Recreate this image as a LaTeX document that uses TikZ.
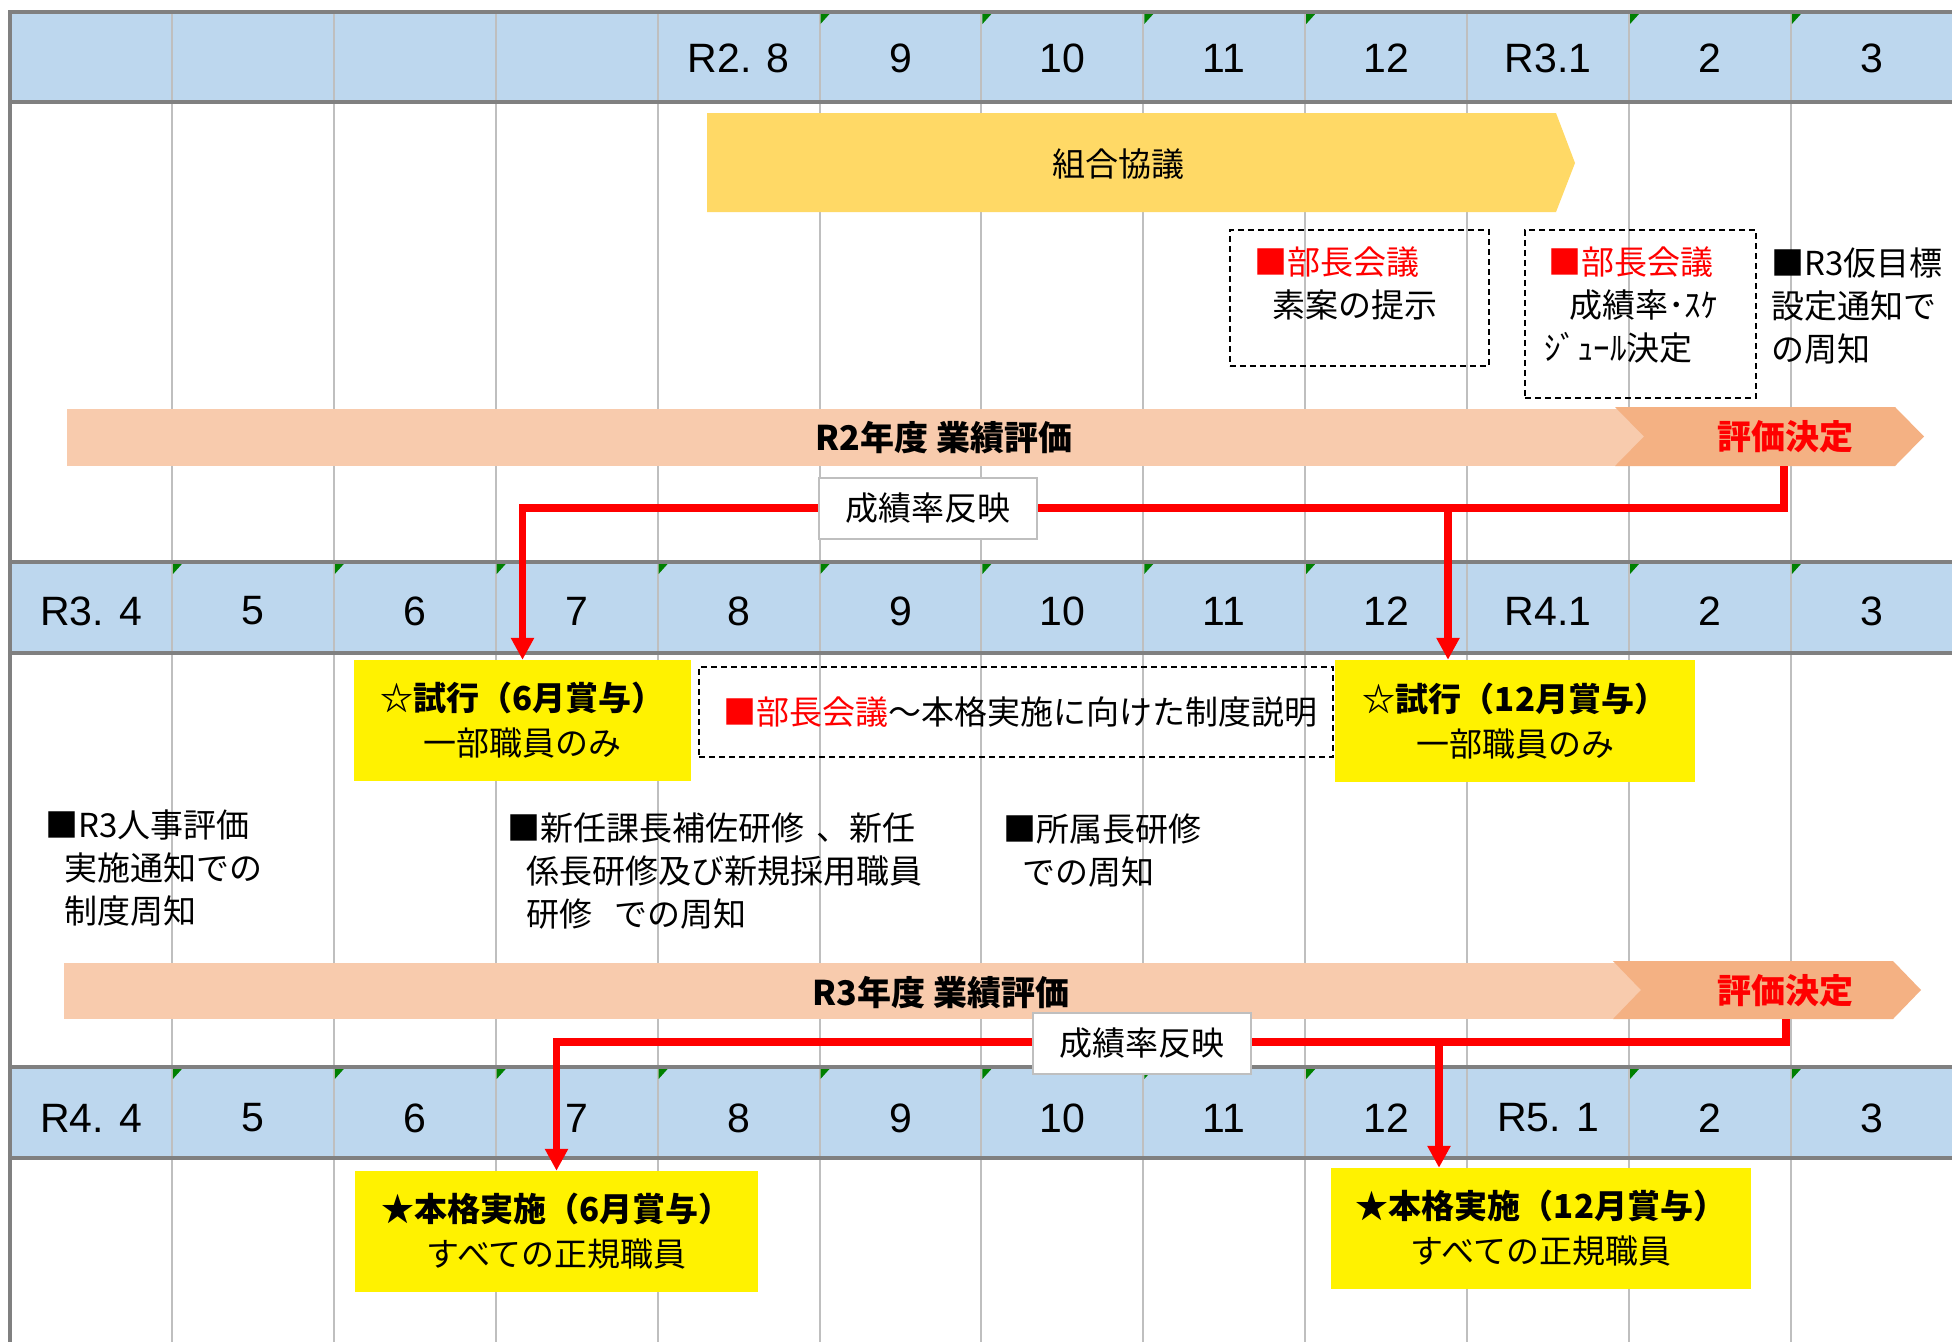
\documentclass[tikz,border=0pt]{standalone}
\usepackage{fontspec}
\setmainfont{Noto Sans CJK JP}
\newfontfamily\hdfont{Liberation Sans}
\usetikzlibrary{arrows.meta}
\definecolor{hdrblue}{HTML}{BDD7EE}
\definecolor{gridgray}{HTML}{BFBFBF}
\definecolor{bordergray}{HTML}{808080}
\definecolor{kumiaiyellow}{HTML}{FFD966}
\definecolor{evallight}{HTML}{F8CBAD}
\definecolor{evaldark}{HTML}{F4B183}
\definecolor{tickgreen}{HTML}{008000}
\begin{document}
\begin{tikzpicture}[x=1pt,y=-1pt,
  jp/.style={font=\fontsize{33}{43}\selectfont, inner sep=0pt},
  jpb/.style={font=\bfseries\fontsize{34}{43}\selectfont, inner sep=0pt},
  hdr/.style={font=\hdfont\fontsize{41}{48}\selectfont, inner sep=0pt},
  gridline/.style={draw=gridgray, line width=2pt},
  hrule/.style={draw=bordergray, line width=3.5pt},
  dbox/.style={draw=black, line width=1.6pt, dash pattern=on 6pt off 4pt, inner sep=0pt, anchor=north west},
  ybox/.style={fill=yellow, inner sep=0pt, align=center, font=\fontsize{33}{45}\selectfont},
  ratebox/.style={fill=white, draw=gridgray, line width=2pt, minimum width=218pt, minimum height=61pt, inner sep=0pt, font=\fontsize{33}{43}\selectfont},
  rarrow/.style={draw=red, line width=7.5pt, -{Triangle[width=22pt,length=22pt]}},
  notetext/.style={font=\fontsize{33}{43}\selectfont, inner sep=0pt, align=left, anchor=north west}
]
\def\cw{161.9}
% page
\fill[white] (0,0) rectangle (1952,1342);
\useasboundingbox (0,0) rectangle (1952,1342);
% header fills
\foreach \tp/\bt in {12/102, 562/653, 1067/1158}
  \fill[hdrblue] (10,\tp) rectangle (1952,\bt);
% vertical grid
\foreach \k in {1,...,11}
  \draw[gridline] ({10+\k*\cw},12) -- ({10+\k*\cw},1342);
% green indicators
\foreach \tp/\k in {12/5,12/6,12/7,12/8,12/10,12/11,
  562/1,562/2,562/3,562/4,562/5,562/6,562/7,562/8,562/10,562/11,
  1067/1,1067/2,1067/3,1067/4,1067/5,1067/6,1067/7,1067/8,1067/10,1067/11}
  \fill[tickgreen] ({10+\k*\cw+1},{\tp+2}) -- ++(9,0) -- ++(-9,10) -- cycle;
% header labels
\foreach \k/\lab in {4/R2. 8,5/9,6/10,7/11,8/12,9/R3.1,10/2,11/3}
  \node[hdr] (ha\k) at ({10+(\k+0.5)*\cw},58) {\lab};
\foreach \k/\lab in {0/R3. 4,1/5,2/6,3/7,4/8,5/9,6/10,7/11,8/12,9/R4.1,10/2,11/3}
  \node[hdr] (hb\k) at ({10+(\k+0.5)*\cw},611) {\lab};
\foreach \k/\lab in {0/R4. 4,1/5,2/6,3/7,4/8,5/9,6/10,7/11,8/12,9/R5. 1,10/2,11/3}
  \node[hdr] (hc\k) at ({10+(\k+0.5)*\cw},1118) {\lab};
% horizontal rules
\foreach \yy in {12,102,562,653,1067,1158}
  \draw[hrule] (10,\yy) -- (1952,\yy);
\draw[hrule] (10,10.25) -- (10,1342);

% ---------- section 1
\fill[kumiaiyellow] (707,113) -- (1556,113) -- (1575,163) -- (1556,212) -- (707,212) -- cycle;
\node[jp] (kumiai) at (1118,164) {組合協議};

\node[dbox, minimum width=259pt, minimum height=136pt] (bucho1) at (1229,229) {};
\node[notetext] (bucho1t) at (1254,247) {\textcolor{red}{■部長会議}\\\hspace*{18pt}素案の提示};
\node[dbox, minimum width=231pt, minimum height=168pt] (bucho2) at (1524,229) {};
\node[notetext] (bucho2t) at (1548,247) {\textcolor{red}{■部長会議}\\\hspace*{21pt}成績率･ｽｹ\\\hspace*{-4pt}ｼﾞｭｰﾙ決定};
\node[notetext] (kari) at (1771,248) {■R3仮目標\\設定通知で\\の周知};

\fill[evallight] (67,409) rectangle (1650,466);
\fill[evaldark] (1615,407) -- (1895,407) -- (1924,436.5) -- (1895,466) -- (1615,466) -- (1644,436.5) -- cycle;
\node[jpb] (r2eval) at (944,438) {R2年度 業績評価};
\node[jpb, text=red] (r2dec) at (1785,437) {評価決定};
\coordinate (r2out) at (1784,466);
\coordinate (r2bend) at (1784,508);
\coordinate (r2branch) at (1448,508);

% ---------- section 2
\node[ybox, minimum width=337pt, minimum height=121pt] (try1) at (522.5,720.5) {{\bfseries ☆試行（6月賞与）}\\一部職員のみ};
\node[ybox, minimum width=360pt, minimum height=122pt] (try2) at (1515,721) {{\bfseries ☆試行（12月賞与）}\\一部職員のみ};
\node[dbox, minimum width=634pt, minimum height=90pt] (bucho3) at (698,666) {};
\node[jp, anchor=west] (bucho3t) at (723,712) {\textcolor{red}{■部長会議}～本格実施に向けた制度説明};

\node[notetext] (jinji) at (45,810) {■R3人事評価\\\hspace*{19pt}実施通知での\\\hspace*{19pt}制度周知};
\node[notetext] (kensyu) at (507,813) {■新任課長補佐研修\hspace*{12pt}、新任\\\hspace*{19pt}係長研修及び新規採用職員\\\hspace*{19pt}研修\hspace*{22pt}での周知};
\node[notetext] (shozoku) at (1003,814) {■所属長研修\\\hspace*{19pt}での周知};

\fill[evallight] (64,963) rectangle (1650,1019);
\fill[evaldark] (1613,961) -- (1893,961) -- (1921,990) -- (1893,1019) -- (1613,1019) -- (1641,990) -- cycle;
\node[jpb] (r3eval) at (941,993) {R3年度 業績評価};
\node[jpb, text=red] (r3dec) at (1785,991) {評価決定};
\coordinate (r3out) at (1786,1019);
\coordinate (r3bend) at (1786,1042);
\coordinate (r3branch) at (1439,1042);

% ---------- section 3
\node[ybox, minimum width=403pt, minimum height=121pt] (full1) at (556.5,1231.5) {{\bfseries ★本格実施（6月賞与）}\\すべての正規職員};
\node[ybox, minimum width=420pt, minimum height=121pt] (full2) at (1541,1228.5) {{\bfseries ★本格実施（12月賞与）}\\すべての正規職員};

% ---------- connectors
\draw[rarrow] (r2out) -- (r2bend) -| (try1.north);
\draw[rarrow] (r2branch) -- (r2branch |- try2.north);
\node[ratebox] (rate1) at (928,508.5) {成績率反映};

\draw[rarrow] (r3out) -- (r3bend) -| (full1.north);
\draw[rarrow] (r3branch) -- (r3branch |- full2.north);
\node[ratebox] (rate2) at (1142,1043.5) {成績率反映};
\end{tikzpicture}
\end{document}
